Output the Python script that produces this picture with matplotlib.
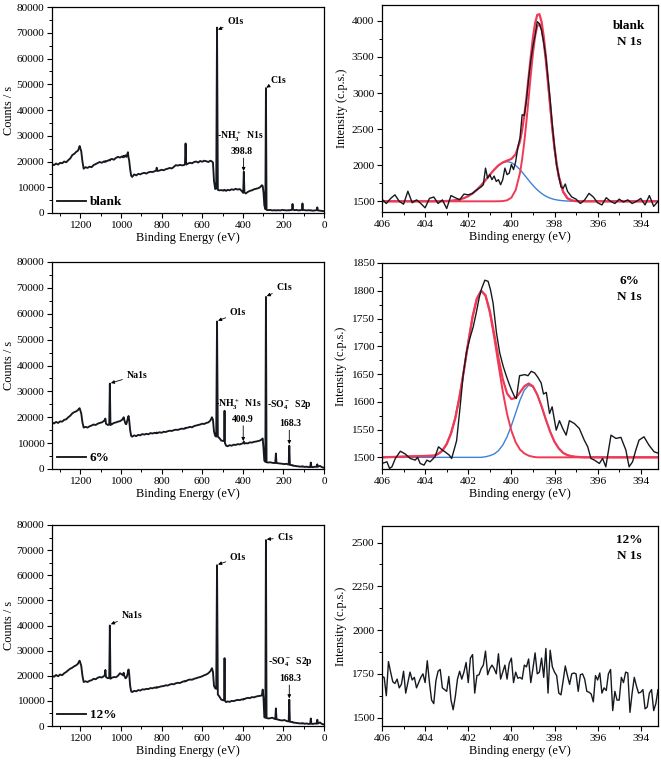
import numpy as np
import matplotlib.pyplot as plt
from matplotlib.ticker import MultipleLocator

plt.rcParams['font.family'] = 'serif'
plt.rcParams['font.serif'] = ['Liberation Serif', 'DejaVu Serif']
plt.rcParams['mathtext.fontset'] = 'custom'
plt.rcParams['mathtext.rm'] = 'Liberation Serif:bold'
plt.rcParams['mathtext.it'] = 'Liberation Serif:bold'
plt.rcParams['mathtext.bf'] = 'Liberation Serif:bold'

# ---- survey spectra (binding energy in eV, counts / s) ----
survey_energy = [
    1340, 1330, 1320, 1310, 1300, 1290, 1280, 1270, 1260, 1250,
    1240, 1230, 1220, 1212, 1208, 1204, 1196, 1190, 1184, 1175,
    1165, 1155, 1145, 1135, 1125, 1115, 1105, 1095, 1085, 1080,
    1077, 1074, 1065, 1058, 1055, 1052, 1045, 1035, 1025, 1015,
    1005, 995, 990, 987, 984, 978, 974, 970, 966, 963,
    960, 955, 950, 945, 935, 925, 915, 905, 895, 885,
    875, 865, 855, 845, 835, 827, 824, 821, 810, 800,
    790, 780, 770, 760, 750, 740, 730, 720, 710, 700,
    690, 685, 682, 679, 670, 660, 650, 640, 630, 620,
    610, 600, 590, 580, 570, 560, 552, 547, 542, 536,
    531, 527, 523, 516, 506, 496, 492, 490, 488, 482,
    475, 465, 455, 445, 435, 425, 415, 405, 398, 395,
    392, 385, 375, 365, 355, 345, 335, 325, 315, 306,
    302, 298, 294, 289, 286, 283, 275, 265, 255, 245,
    240, 237, 234, 225, 215, 205, 195, 185, 174, 171,
    168, 160, 157, 155, 153, 145, 135, 125, 115, 108,
    106, 104, 95, 85, 75, 68, 65, 62, 55, 45,
    36, 33, 30, 20, 10, 0]

survey_blank = [
    19000, 18600, 19200, 18800, 19500, 19300, 20000, 19700, 20500, 21200,
    22500, 23000, 23800, 24200, 25000, 26000, 24000, 20000, 17200, 17800,
    17500, 18000, 17800, 18600, 19000, 19400, 19800, 19500, 20000, 19800,
    20200, 20000, 20300, 20600, 20400, 20800, 21000, 20700, 21400, 21800,
    21500, 22000, 21600, 22200, 21800, 22400, 21800, 22500, 23600, 21500,
    20500, 17000, 14500, 14000, 15000, 14600, 15200, 15000, 15400, 15600,
    15300, 15800, 16000, 15900, 16200, 16500, 17600, 16300, 16500, 16800,
    16600, 17000, 17200, 17500, 17300, 17900, 18600, 18400, 18700, 18500,
    18600, 19000, 27000, 18800, 19200, 19500, 19300, 19800, 20000, 19600,
    20200, 19900, 20300, 20100, 19800, 20300, 20000, 19600, 12500, 9300,
    9500, 72000, 9000, 8800, 8900, 8700, 9000, 8800, 8900, 8600,
    9000, 8800, 9200, 9000, 9400, 9100, 9300, 8500, 7800, 16000,
    8000, 7600, 8200, 8600, 8800, 9200, 9400, 9600, 10000, 10800,
    10500, 8000, 3000, 1500, 48500, 1200, 1100, 1200, 1000, 1100,
    1000, 1100, 1000, 1100, 1000, 1200, 1100, 1000, 1100, 1000,
    1100, 1200, 1500, 3500, 1300, 1100, 1200, 1000, 1100, 1300,
    3700, 1200, 1100, 1000, 1100, 1000, 1100, 1000, 900, 1000,
    1100, 2200, 1000, 900, 800, 700]

survey_6 = [
    18000, 17600, 18200, 17800, 18400, 18300, 19000, 19200, 20000, 20600,
    21500, 22000, 22300, 22800, 23200, 23500, 21500, 18000, 16000, 16300,
    16000, 16500, 16800, 17200, 17000, 17500, 17800, 18000, 18500, 19000,
    19500, 17500, 17000, 17200, 33000, 17000, 17300, 17800, 18000, 18300,
    18500, 19000, 19500, 20000, 19000, 17500, 17300, 18500, 19800, 20500,
    19000, 15000, 12800, 12500, 13000, 12700, 13200, 13000, 13500, 13300,
    13600, 13400, 13900, 13700, 14000, 13800, 14100, 13900, 14200, 14000,
    14400, 14300, 14600, 14800, 14700, 15000, 15200, 15100, 15400, 15600,
    15500, 15800, 15700, 15900, 16000, 16300, 16100, 16600, 16800, 17000,
    17200, 17500, 17400, 17800, 18000, 18700, 20000, 19000, 14500, 12800,
    12500, 57000, 12500, 12000, 11000, 10800, 11000, 22500, 10000, 9000,
    8800, 9200, 9000, 9400, 9300, 9600, 9500, 9800, 10000, 10600,
    9800, 10000, 9900, 10300, 10200, 10500, 10600, 10800, 11000, 11500,
    11800, 8000, 3200, 2800, 66500, 2600, 2500, 2600, 2400, 2300,
    2400, 6000, 2300, 2200, 2100, 2000, 1900, 2000, 1700, 9000,
    1600, 1500, 1400, 1500, 1300, 1200, 1100, 1000, 900, 1000,
    900, 1000, 800, 900, 700, 800, 2500, 800, 700, 900,
    800, 1800, 900, 1200, 700, 500]

survey_12 = [
    20000, 19600, 20300, 19800, 20500, 20200, 21000, 21500, 22200, 22800,
    23200, 23800, 24200, 24800, 25500, 26000, 24000, 20000, 17500, 17800,
    17500, 18000, 18200, 18800, 18600, 19200, 19500, 19300, 19800, 20200,
    22300, 19500, 19000, 19200, 40000, 18800, 19200, 19500, 19400, 20000,
    21000, 20500, 20200, 21200, 20000, 19000, 19200, 20000, 21500, 22500,
    21000, 16000, 13800, 13500, 14000, 13800, 14300, 14100, 14600, 14500,
    14800, 14700, 15100, 15000, 15300, 15200, 15500, 15300, 15600, 15800,
    15900, 16200, 16100, 16500, 16700, 16600, 17000, 17200, 17100, 17500,
    17800, 17700, 18000, 17900, 18300, 18500, 18400, 18800, 19000, 19300,
    19500, 19800, 20200, 20500, 21000, 21800, 23000, 21500, 16000, 15000,
    14800, 64000, 12500, 11800, 10500, 10200, 10800, 27000, 10000, 9500,
    9800, 9600, 10000, 9900, 10200, 10400, 10300, 10600, 10500, 10800,
    10700, 11000, 11200, 11100, 11500, 11400, 11700, 11900, 12000, 12200,
    14500, 11000, 3500, 3300, 74000, 3200, 3000, 3100, 3300, 2900,
    2800, 7000, 2700, 2500, 2300, 2200, 2400, 2000, 1800, 10500,
    1700, 1600, 1500, 1600, 1400, 1300, 1200, 1100, 1000, 1100,
    1000, 1100, 900, 1000, 800, 900, 3000, 900, 800, 1000,
    900, 2500, 1000, 1400, 800, 600]

# ---- N 1s, blank ----
n1s_blank_energy = [
    406.0, 405.8, 405.6, 405.4, 405.2, 405.0, 404.8, 404.6, 404.4, 404.2,
    404.0, 403.8, 403.6, 403.4, 403.2, 403.0, 402.8, 402.6, 402.4, 402.2,
    402.0, 401.8, 401.6, 401.4, 401.3, 401.2, 401.1, 401.0, 400.9, 400.8,
    400.7, 400.6, 400.5, 400.4, 400.3, 400.2, 400.1, 400.0, 399.9, 399.8,
    399.7, 399.6, 399.5, 399.4, 399.3, 399.2, 399.1, 399.0, 398.9, 398.8,
    398.7, 398.6, 398.5, 398.4, 398.3, 398.2, 398.1, 398.0, 397.9, 397.8,
    397.7, 397.6, 397.5, 397.4, 397.2, 397.0, 396.8, 396.6, 396.4, 396.2,
    396.0, 395.8, 395.6, 395.4, 395.2, 395.0, 394.8, 394.6, 394.4, 394.2,
    394.0, 393.8, 393.6, 393.4, 393.2]
n1s_blank_raw = [
    1530, 1470, 1540, 1590, 1500, 1460, 1640, 1480, 1520, 1470,
    1410, 1540, 1560, 1470, 1520, 1400, 1580, 1550, 1520, 1600,
    1590, 1610, 1660, 1700, 1730, 1960, 1820, 1870, 1800, 1850,
    1775, 1800, 1730, 1800, 1960, 1870, 1890, 2010, 1940, 2050,
    2250, 2380, 2700, 2690, 2900, 3200, 3450, 3650, 3800, 3990,
    3960, 3870, 3700, 3500, 3200, 2900, 2550, 2250, 2000, 1850,
    1700, 1680, 1740, 1640, 1560, 1530, 1470, 1520, 1610, 1560,
    1480, 1450, 1550, 1500, 1470, 1530, 1490, 1520, 1470, 1500,
    1540, 1450, 1580, 1430, 1500]

n1s_blank_fit_energy = [
    406.0, 403.6, 403.2, 403.0, 402.8, 402.6, 402.4, 402.2, 402.0, 401.8,
    401.6, 401.4, 401.2, 401.0, 400.8, 400.6, 400.4, 400.2, 400.0, 399.8,
    399.6, 399.5, 399.4, 399.3, 399.2, 399.1, 399.0, 398.9, 398.8, 398.7,
    398.6, 398.5, 398.4, 398.3, 398.2, 398.1, 398.0, 397.9, 397.8, 397.6,
    397.4, 397.2, 397.0, 396.6, 396.2, 393.2]
n1s_blank_main = [
    1500, 1500, 1500, 1500, 1500, 1500, 1500, 1500, 1500, 1500,
    1500, 1500, 1500, 1500, 1500, 1501, 1503, 1514, 1551, 1656,
    1894, 2084, 2325, 2611, 2928, 3249, 3544, 3779, 3923, 3960,
    3878, 3694, 3431, 3122, 2799, 2492, 2223, 2003, 1832, 1627,
    1540, 1510, 1502, 1500, 1500, 1500]
n1s_blank_minor = [
    1500, 1500, 1502, 1504, 1508, 1515, 1526, 1544, 1571, 1610,
    1660, 1722, 1793, 1867, 1938, 1997, 2036, 2050, 2036, 1997,
    1938, 1904, 1867, 1830, 1793, 1756, 1722, 1689, 1660, 1633,
    1610, 1589, 1571, 1556, 1544, 1534, 1526, 1520, 1515, 1508,
    1504, 1502, 1501, 1500, 1500, 1500]
n1s_blank_envelope = [
    1500, 1500, 1502, 1504, 1508, 1515, 1526, 1544, 1571, 1610,
    1660, 1722, 1793, 1867, 1938, 1998, 2039, 2064, 2087, 2153,
    2332, 2488, 2692, 2941, 3221, 3505, 3766, 3968, 4083, 4093,
    3988, 3783, 3502, 3178, 2843, 2526, 2249, 2023, 1847, 1635,
    1544, 1512, 1503, 1500, 1500, 1500]

# ---- N 1s, 6% ----
n1s_6_energy = [
    406.0, 405.77, 405.65, 405.54, 405.38, 405.15, 404.92, 404.69, 404.46, 404.35,
    404.23, 404.05, 403.92, 403.77, 403.54, 403.38, 403.23, 403.08, 402.88, 402.77,
    402.66, 402.54, 402.38, 402.23, 402.08, 401.92, 401.77, 401.62, 401.49, 401.38,
    401.23, 401.08, 400.97, 400.85, 400.69, 400.54, 400.38, 400.23, 400.12, 400.0,
    399.85, 399.77, 399.62, 399.38, 399.23, 399.08, 398.92, 398.77, 398.62, 398.51,
    398.38, 398.23, 398.11, 397.92, 397.77, 397.62, 397.46, 397.31, 397.08, 396.85,
    396.62, 396.46, 396.31, 396.15, 395.92, 395.77, 395.62, 395.38, 395.15, 394.92,
    394.69, 394.54, 394.38, 394.23, 394.08, 393.85, 393.62, 393.38, 393.23]
n1s_6_raw = [
    1489, 1492, 1480, 1483, 1498, 1511, 1506, 1498, 1495, 1500,
    1489, 1486, 1495, 1492, 1501, 1519, 1514, 1510, 1504, 1498,
    1513, 1530, 1590, 1650, 1690, 1715, 1735, 1762, 1788, 1804,
    1819, 1817, 1802, 1778, 1724, 1688, 1664, 1646, 1634, 1622,
    1609, 1606, 1647, 1649, 1647, 1655, 1652, 1644, 1634, 1614,
    1617, 1579, 1591, 1549, 1566, 1552, 1540, 1566, 1561, 1552,
    1531, 1519, 1498, 1495, 1489, 1498, 1483, 1540, 1534, 1536,
    1513, 1483, 1492, 1513, 1531, 1537, 1522, 1510, 1508]

n1s_6_fit_energy = [
    406.0, 403.6, 403.4, 403.2, 403.0, 402.8, 402.6, 402.4, 402.2, 402.0,
    401.8, 401.6, 401.4, 401.2, 401.0, 400.8, 400.6, 400.4, 400.2, 400.0,
    399.8, 399.6, 399.4, 399.2, 399.0, 398.8, 398.6, 398.4, 398.2, 398.0,
    397.8, 397.6, 397.4, 397.2, 397.0, 396.6, 393.2]
n1s_6_main = [
    1500, 1503, 1506, 1512, 1524, 1543, 1571, 1610, 1657, 1707,
    1753, 1786, 1800, 1791, 1761, 1717, 1667, 1619, 1578, 1548,
    1527, 1514, 1507, 1503, 1501, 1500, 1500, 1500, 1500, 1500,
    1500, 1500, 1500, 1500, 1500, 1500, 1500]
n1s_6_minor = [
    1500, 1500, 1500, 1500, 1500, 1500, 1500, 1500, 1500, 1500,
    1500, 1500, 1500, 1501, 1503, 1506, 1512, 1522, 1537, 1557,
    1580, 1603, 1621, 1630, 1627, 1613, 1592, 1568, 1546, 1528,
    1516, 1508, 1504, 1502, 1501, 1500, 1500]
n1s_6_envelope = [
    1500, 1503, 1506, 1512, 1524, 1543, 1571, 1610, 1657, 1707,
    1753, 1786, 1800, 1792, 1764, 1723, 1679, 1641, 1615, 1605,
    1607, 1617, 1628, 1633, 1628, 1613, 1592, 1568, 1546, 1528,
    1516, 1508, 1504, 1502, 1501, 1500, 1500]

# ---- N 1s, 12% ----
n1s_12_energy = [
    406.0, 405.9, 405.8, 405.7, 405.6, 405.5, 405.4, 405.3, 405.2, 405.1,
    405.0, 404.9, 404.8, 404.7, 404.6, 404.5, 404.4, 404.3, 404.2, 404.1,
    404.0, 403.9, 403.8, 403.7, 403.6, 403.5, 403.4, 403.3, 403.2, 403.1,
    403.0, 402.9, 402.8, 402.7, 402.6, 402.5, 402.4, 402.3, 402.2, 402.1,
    402.0, 401.9, 401.8, 401.7, 401.6, 401.5, 401.4, 401.3, 401.2, 401.1,
    401.0, 400.9, 400.8, 400.7, 400.6, 400.5, 400.4, 400.3, 400.2, 400.1,
    400.0, 399.9, 399.8, 399.7, 399.6, 399.5, 399.4, 399.3, 399.2, 399.1,
    399.0, 398.9, 398.8, 398.7, 398.6, 398.5, 398.4, 398.3, 398.2, 398.1,
    398.0, 397.9, 397.8, 397.7, 397.6, 397.5, 397.4, 397.3, 397.2, 397.1,
    397.0, 396.9, 396.8, 396.7, 396.6, 396.5, 396.4, 396.3, 396.2, 396.1,
    396.0, 395.9, 395.8, 395.7, 395.6, 395.5, 395.4, 395.3, 395.2, 395.1,
    395.0, 394.9, 394.8, 394.7, 394.6, 394.5, 394.4, 394.3, 394.2, 394.1,
    394.0, 393.9, 393.8, 393.7, 393.6, 393.5, 393.4, 393.3, 393.2]
n1s_12_raw = [
    1735, 1730, 1625, 1820, 1760, 1705, 1695, 1720, 1670, 1690,
    1765, 1640, 1700, 1760, 1715, 1730, 1670, 1700, 1730, 1750,
    1700, 1825, 1700, 1600, 1580, 1710, 1765, 1775, 1670, 1660,
    1650, 1735, 1600, 1545, 1620, 1720, 1765, 1720, 1760, 1815,
    1700, 1840, 1860, 1640, 1740, 1745, 1780, 1800, 1880, 1745,
    1780, 1800, 1780, 1750, 1865, 1720, 1760, 1800, 1720, 1810,
    1840, 1700, 1760, 1725, 1730, 1720, 1800, 1790, 1835, 1700,
    1780, 1870, 1750, 1760, 1840, 1730, 1895, 1640, 1885, 1790,
    1760, 1740, 1640, 1630, 1710, 1795, 1740, 1690, 1750, 1755,
    1750, 1650, 1745, 1750, 1720, 1650, 1645, 1635, 1590, 1740,
    1715, 1755, 1640, 1670, 1655, 1750, 1775, 1540, 1650, 1600,
    1600, 1730, 1700, 1760, 1755, 1530, 1640, 1730, 1680, 1640,
    1645, 1660, 1550, 1560, 1640, 1660, 1540, 1580, 1660]

BLACK = '#15191f'
RED = '#f03a55'
BLUE = '#3d82d6'
W, H = 661, 764


def rect(x0, y0, x1, y1):
    return [x0 / W, 1 - y1 / H, (x1 - x0) / W, (y1 - y0) / H]


def style(ax):
    for s in ax.spines.values():
        s.set_linewidth(0.9)
    ax.tick_params(which='major', direction='out', length=3.5, width=0.8,
                   labelsize=8.2, pad=2)
    ax.tick_params(which='minor', direction='out', length=2, width=0.7)


def arrow(ax, xy, xytext):
    ax.annotate('', xy=xy, xytext=xytext,
                arrowprops=dict(arrowstyle='-|>', lw=0.6, color='k',
                                mutation_scale=5, shrinkA=0, shrinkB=0))


def note(ax, text, xy, xytext):
    ax.annotate(text, xy=xy, xytext=xytext, ha='center', va='center',
                fontsize=7, fontweight='bold',
                arrowprops=dict(arrowstyle='-|>', lw=0.6, color='k',
                                mutation_scale=5, shrinkA=1, shrinkB=0))


def survey(box, counts, label):
    ax = fig.add_axes(rect(*box))
    ax.plot(survey_energy, counts, color=BLACK, lw=1.35, label=label)
    ax.set_xlim(1340, 0)
    ax.set_ylim(0, 80000)
    ax.xaxis.set_major_locator(MultipleLocator(200))
    ax.xaxis.set_minor_locator(MultipleLocator(100))
    ax.yaxis.set_major_locator(MultipleLocator(10000))
    ax.yaxis.set_minor_locator(MultipleLocator(5000))
    style(ax)
    ax.set_xlabel('Binding Energy (eV)', fontsize=8.8, labelpad=2)
    ax.set_ylabel('Counts / s', fontsize=8.8, labelpad=1)
    ax.legend(loc='lower left', frameon=False, handlelength=2.2,
              handletextpad=0.3, borderaxespad=0.15, borderpad=0.2,
              prop=dict(weight='bold', size=9.5))
    return ax


def n1s(box, energy, raw, ylim, major, minor, label, label_y, fits=None):
    ax = fig.add_axes(rect(*box))
    if fits is not None:
        fe, main, small, env = fits
        ax.plot(fe, small, color=BLUE, lw=1.0)
        ax.plot(fe, main, color=RED, lw=1.4)
        ax.plot(fe, env, color=RED, lw=1.6)
    ax.plot(energy, raw, color=BLACK, lw=1.0)
    ax.set_xlim(406, 393.2)
    ax.set_ylim(*ylim)
    ax.xaxis.set_major_locator(MultipleLocator(2))
    ax.xaxis.set_minor_locator(MultipleLocator(1))
    ax.yaxis.set_major_locator(MultipleLocator(major))
    ax.yaxis.set_minor_locator(MultipleLocator(minor))
    style(ax)
    ax.set_xlabel('Binding energy (eV)', fontsize=8.8, labelpad=2)
    ax.set_ylabel('Intensity (c.p.s.)', fontsize=8.8, labelpad=3)
    ax.text(0.895, label_y, label + '\nN 1s', transform=ax.transAxes,
            ha='center', va='center', fontsize=9.5, fontweight='bold',
            linespacing=1.35)
    return ax


fig = plt.figure(figsize=(W / 100, H / 100), dpi=100)

# row 1
ax = survey((52, 7, 324, 213), survey_blank, 'blank')
note(ax, 'O1s', (522, 71200), (437, 74200))
note(ax, 'C1s', (284, 48700), (226, 51500))
ax.text(412, 29500, r'-NH$_3^+$  N1s', ha='center', va='center', fontsize=7, fontweight='bold')
ax.text(408, 23800, '398.8', ha='center', va='center', fontsize=7, fontweight='bold')
arrow(ax, (396, 16300), (396, 21300))

n1s((382, 5, 658, 212), n1s_blank_energy, n1s_blank_raw, (1352, 4220), 500, 250,
    'blank', 0.86, (n1s_blank_fit_energy, n1s_blank_main, n1s_blank_minor, n1s_blank_envelope))

# row 2
ax = survey((52, 262, 324, 469), survey_6, '6%')
note(ax, 'Na1s', (1050, 33200), (922, 36300))
note(ax, 'O1s', (522, 57300), (424, 60300))
note(ax, 'C1s', (282, 66800), (196, 70000))
ax.text(420, 24800, r'-NH$_3^+$  N1s', ha='center', va='center', fontsize=7, fontweight='bold')
ax.text(400, 19300, '400.9', ha='center', va='center', fontsize=7, fontweight='bold')
arrow(ax, (398, 10800), (398, 16700))
ax.text(168, 24800, r'-SO$_4^-$  S2p', ha='center', va='center', fontsize=7, fontweight='bold')
ax.text(168, 17500, '168.3', ha='center', va='center', fontsize=7, fontweight='bold')
arrow(ax, (171, 9600), (171, 15000))

n1s((382, 263, 658, 469), n1s_6_energy, n1s_6_raw, (1479, 1850), 50, 25,
    '6%', 0.874, (n1s_6_fit_energy, n1s_6_main, n1s_6_minor, n1s_6_envelope))

# row 3
ax = survey((52, 525, 324, 726), survey_12, '12%')
note(ax, 'Na1s', (1050, 40500), (947, 44100))
note(ax, 'O1s', (522, 64300), (424, 67000))
note(ax, 'C1s', (282, 74300), (191, 75000))
ax.text(165, 25500, r'-SO$_4^-$  S2p', ha='center', va='center', fontsize=7, fontweight='bold')
ax.text(165, 18900, '168.3', ha='center', va='center', fontsize=7, fontweight='bold')
arrow(ax, (171, 11000), (171, 16300))

n1s((382, 526, 658, 726), n1s_12_energy, n1s_12_raw, (1452, 2595), 250, 125, '12%', 0.89)

fig.savefig('out.png', dpi=100)
